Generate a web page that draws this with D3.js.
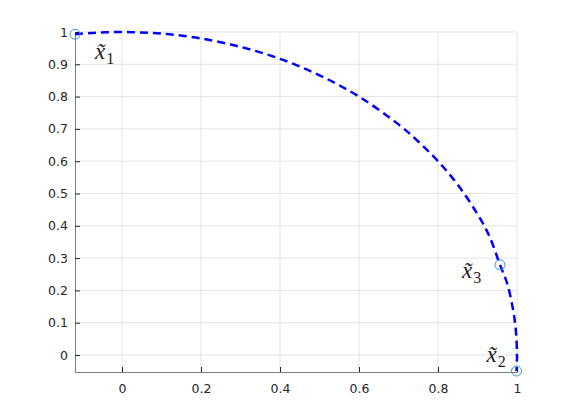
<!DOCTYPE html>
<html>
<head>
<meta charset="utf-8">
<script src="https://cdn.jsdelivr.net/npm/d3@7"></script>
<style>
body { margin: 0; background: #fff; }
svg text { font-family: "DejaVu Sans", sans-serif; }
</style>
</head>
<body>
<div id="chart"></div>
<script>
// curve points
var curveX = [-0.119, -0.08, -0.04, 0, 0.04, 0.08, 0.12, 0.2, 0.3, 0.4, 0.5, 0.6, 0.7, 0.75, 0.8, 0.85, 0.9, 0.93, 0.957, 0.975, 0.99, 0.997, 1.0, 0.9988];
var curveY = [0.993, 0.997, 0.999, 1.0, 0.999, 0.997, 0.993, 0.980, 0.954, 0.917, 0.866, 0.800, 0.714, 0.661, 0.600, 0.527, 0.436, 0.368, 0.279, 0.222, 0.141, 0.077, 0.0, -0.0495];

// marked points
var ptNames = ["1", "2", "3"];
var ptX = [-0.119, 0.9988, 0.957];
var ptY = [0.993, -0.0495, 0.279];

var xTicks = [0, 0.2, 0.4, 0.6, 0.8, 1];
var yTicks = [0, 0.1, 0.2, 0.3, 0.4, 0.5, 0.6, 0.7, 0.8, 0.9, 1];

var width = 575, height = 417;
var margin = {top: 32, right: 58, bottom: 45, left: 75};
var w = width - margin.left - margin.right,
    h = height - margin.top - margin.bottom;

var x = d3.scaleLinear().domain([-0.119, 1]).range([0, w]);
var y = d3.scaleLinear().domain([-0.0526, 1]).range([h, 0]);

var svg = d3.select("#chart").append("svg")
    .attr("width", width)
    .attr("height", height)
  .append("g")
    .attr("transform", "translate(" + margin.left + "," + margin.top + ")");

// grid
svg.append("g").selectAll("line").data(xTicks).enter().append("line")
    .attr("x1", function(d) { return x(d); }).attr("x2", function(d) { return x(d); })
    .attr("y1", 0).attr("y2", h)
    .attr("stroke", "#e3e3e3").attr("stroke-width", 1);
svg.append("g").selectAll("line").data(yTicks).enter().append("line")
    .attr("y1", function(d) { return y(d); }).attr("y2", function(d) { return y(d); })
    .attr("x1", 0).attr("x2", w)
    .attr("stroke", "#e3e3e3").attr("stroke-width", 1);

// axes
var xAxis = svg.append("g")
    .attr("transform", "translate(0," + h + ")")
    .call(d3.axisBottom(x).tickValues(xTicks).tickSize(-5).tickPadding(12)
      .tickFormat(function(d) { return d3.format("")(+d.toFixed(1)); }));
var yAxis = svg.append("g")
    .call(d3.axisLeft(y).tickValues(yTicks).tickSize(-5).tickPadding(7)
      .tickFormat(function(d) { return d3.format("")(+d.toFixed(1)); }));

[xAxis, yAxis].forEach(function(a) {
  a.select(".domain").attr("stroke", "#808080").attr("stroke-width", 1);
  a.selectAll(".tick line").attr("stroke", "#262626");
  a.selectAll(".tick text").attr("fill", "#262626").style("font-size", "12.5px");
});

// curve
var pts = curveX.map(function(d, i) { return [d, curveY[i]]; });
var line = d3.line()
    .x(function(d) { return x(d[0]); })
    .y(function(d) { return y(d[1]); })
    .curve(d3.curveCatmullRom);

svg.append("path")
    .datum(pts)
    .attr("d", line)
    .attr("fill", "none")
    .attr("stroke", "#0000ff")
    .attr("stroke-width", 2.5)
    .attr("stroke-dasharray", "8,5");

// markers
svg.selectAll(".pt")
    .data(ptX)
    .enter().append("circle")
    .attr("class", "pt")
    .attr("cx", function(d) { return x(d); })
    .attr("cy", function(d, i) { return y(ptY[i]); })
    .attr("r", 5)
    .attr("fill", "none")
    .attr("stroke", "#3a98dc")
    .attr("stroke-width", 1);

// labels (offsets in px from each point)
var lblDx = [20, -30, -38];
var lblDy = [25, -9, 13];
var lbl = svg.selectAll(".lbl")
    .data(ptNames)
    .enter().append("text")
    .attr("class", "lbl")
    .attr("x", function(d, i) { return x(ptX[i]) + lblDx[i]; })
    .attr("y", function(d, i) { return y(ptY[i]) + lblDy[i]; })
    .style("font-family", "'Liberation Serif', serif")
    .attr("fill", "#1a1a1a");
lbl.append("tspan")
    .style("font-style", "italic")
    .style("font-size", "23px")
    .text("x\u0303");
lbl.append("tspan")
    .attr("dx", 1).attr("dy", 5)
    .style("font-size", "16px")
    .text(function(d) { return d; });
</script>
</body>
</html>
